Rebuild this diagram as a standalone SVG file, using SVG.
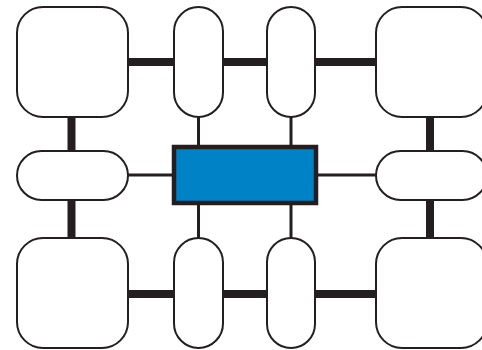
<svg xmlns="http://www.w3.org/2000/svg" width="482" height="350" viewBox="0 0 482 350">
  <style>
    .box { fill: #ffffff; stroke: #231f20; stroke-width: 2; }
    .hub { fill: #0083c6; stroke: #231f20; stroke-width: 4.5; }
    .thick { stroke: #231f20; stroke-width: 8; fill: none; }
    .thin { stroke: #231f20; stroke-width: 3; fill: none; }
  </style>
  <rect width="482" height="350" fill="#ffffff"/>

  <!-- connectors -->
  <g id="connectors">
    <!-- top row -->
    <line class="thick" x1="128" y1="62" x2="174" y2="62"/>
    <line class="thick" x1="223" y1="62" x2="267" y2="62"/>
    <line class="thick" x1="315" y1="62" x2="376" y2="62"/>
    <!-- bottom row -->
    <line class="thick" x1="128" y1="294" x2="174" y2="294"/>
    <line class="thick" x1="223" y1="294" x2="267" y2="294"/>
    <line class="thick" x1="315" y1="294" x2="376" y2="294"/>
    <!-- left column -->
    <line class="thick" x1="71.5" y1="117" x2="71.5" y2="151"/>
    <line class="thick" x1="71.5" y1="200" x2="71.5" y2="238"/>
    <!-- right column -->
    <line class="thick" x1="430" y1="117" x2="430" y2="151"/>
    <line class="thick" x1="430" y1="200" x2="430" y2="238"/>
    <!-- links to the hub -->
    <line class="thin" x1="128" y1="175" x2="173" y2="175"/>
    <line class="thin" x1="318" y1="175" x2="376" y2="175"/>
    <line class="thin" x1="198.5" y1="117" x2="198.5" y2="146"/>
    <line class="thin" x1="291" y1="117" x2="291" y2="146"/>
    <line class="thin" x1="198.5" y1="204" x2="198.5" y2="238"/>
    <line class="thin" x1="291" y1="204" x2="291" y2="238"/>
  </g>

  <!-- top row -->
  <g id="node-top-left"><rect class="box" x="17" y="7" width="111" height="110" rx="26"/></g>
  <g id="node-top-pill-1"><rect class="box" x="174" y="7" width="49" height="110" rx="24.5"/></g>
  <g id="node-top-pill-2"><rect class="box" x="267" y="7" width="48" height="110" rx="24"/></g>
  <g id="node-top-right"><rect class="box" x="376" y="7" width="111" height="110" rx="26"/></g>

  <!-- middle row -->
  <g id="node-mid-left"><rect class="box" x="17" y="151" width="111" height="49" rx="24.5"/></g>
  <g id="node-hub"><rect class="hub" x="174" y="147" width="142" height="56"/></g>
  <g id="node-mid-right"><rect class="box" x="376" y="151" width="111" height="49" rx="24.5"/></g>

  <!-- bottom row -->
  <g id="node-bottom-left"><rect class="box" x="17" y="238" width="111" height="110" rx="26"/></g>
  <g id="node-bottom-pill-1"><rect class="box" x="174" y="238" width="49" height="110" rx="24.5"/></g>
  <g id="node-bottom-pill-2"><rect class="box" x="267" y="238" width="48" height="110" rx="24"/></g>
  <g id="node-bottom-right"><rect class="box" x="376" y="238" width="111" height="110" rx="26"/></g>
</svg>
